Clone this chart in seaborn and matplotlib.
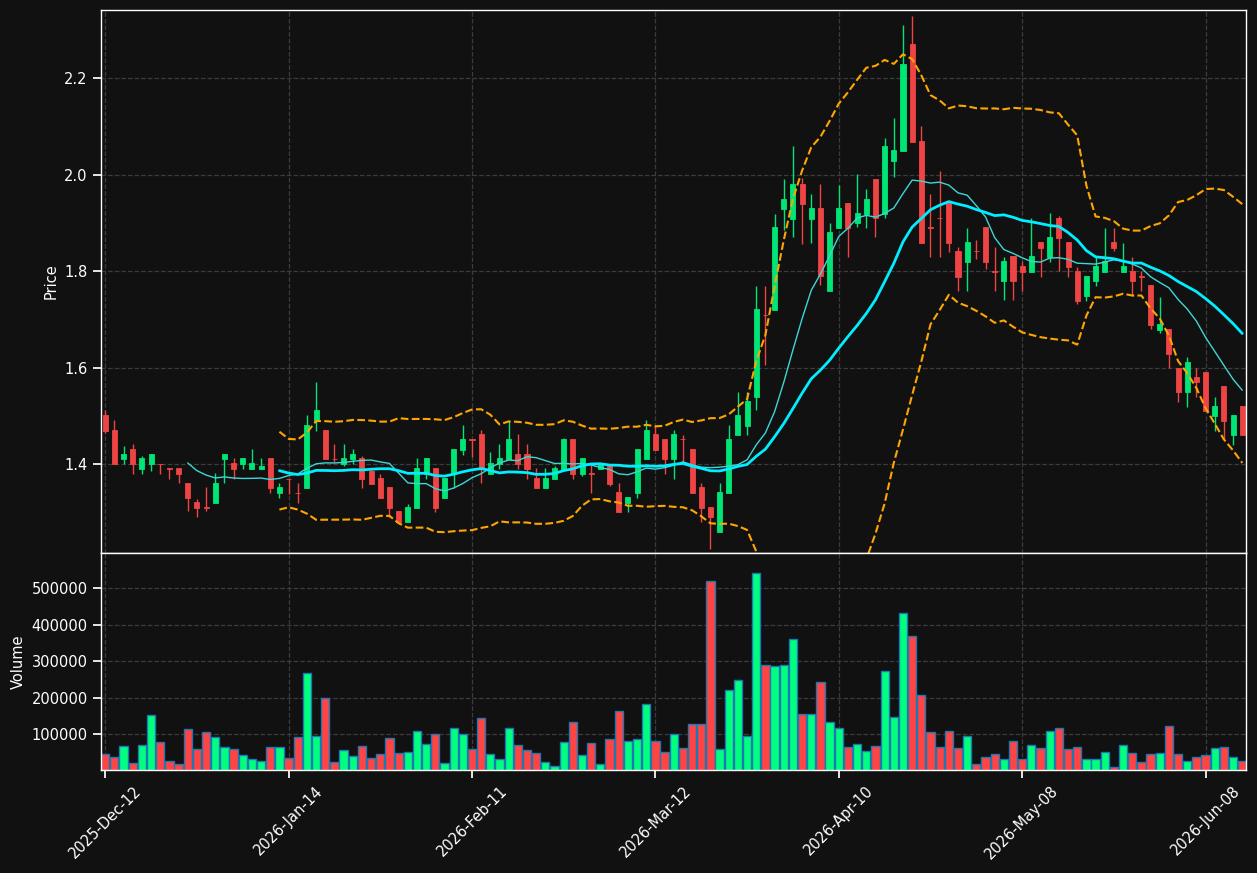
import numpy as np
import pandas as pd
import matplotlib
matplotlib.use("Agg")
import matplotlib.pyplot as plt
import seaborn as sns

# x-axis labels, one every 20 bars
tick_labels = ["2025-Dec-12", "2026-Jan-14", "2026-Feb-11", "2026-Mar-12",
               "2026-Apr-10", "2026-May-08", "2026-Jun-08"]

opens = [1.501, 1.470, 1.410, 1.431, 1.390, 1.4005, 1.401, 1.391, 1.391, 1.3605,
         1.321, 1.3105, 1.320, 1.411, 1.402, 1.4005, 1.390, 1.390, 1.412, 1.340,
         1.370, 1.341, 1.351, 1.490, 1.470, 1.4105, 1.4005, 1.410, 1.412, 1.386,
         1.371, 1.352, 1.302, 1.280, 1.309, 1.380, 1.392, 1.330, 1.380, 1.430,
         1.451, 1.462, 1.380, 1.4005, 1.410, 1.421, 1.421, 1.371, 1.351, 1.3695,
         1.390, 1.452, 1.380, 1.381, 1.390, 1.4005, 1.342, 1.320, 1.340, 1.410,
         1.462, 1.452, 1.410, 1.452, 1.431, 1.352, 1.311, 1.2595, 1.340, 1.461,
         1.479, 1.5395, 1.710, 1.719, 1.928, 1.908, 1.980, 1.908, 1.930, 1.759,
         1.890, 1.941, 1.899, 1.919, 1.990, 1.919, 2.029, 2.049, 2.270, 2.069,
         1.8906, 1.9096, 1.942, 1.841, 1.819, 1.8425, 1.891, 1.800, 1.780, 1.831,
         1.810, 1.799, 1.860, 1.829, 1.910, 1.860, 1.800, 1.749, 1.780, 1.799,
         1.860, 1.799, 1.800, 1.789, 1.771, 1.678, 1.680, 1.600, 1.549, 1.580,
         1.591, 1.4995, 1.562, 1.460, 1.520]
highs = [1.512, 1.491, 1.437, 1.441, 1.416, 1.421, 1.401, 1.391, 1.391, 1.3605,
         1.327, 1.3515, 1.3805, 1.421, 1.4116, 1.412, 1.431, 1.412, 1.412, 1.360,
         1.370, 1.360, 1.501, 1.5705, 1.470, 1.441, 1.441, 1.431, 1.416, 1.389,
         1.380, 1.352, 1.302, 1.317, 1.412, 1.412, 1.392, 1.371, 1.431, 1.481,
         1.451, 1.470, 1.426, 1.441, 1.490, 1.462, 1.441, 1.392, 1.392, 1.396,
         1.455, 1.452, 1.412, 1.401, 1.4005, 1.4005, 1.361, 1.3315, 1.431, 1.491,
         1.479, 1.452, 1.470, 1.461, 1.431, 1.360, 1.311, 1.360, 1.481, 1.550,
         1.550, 1.770, 1.770, 1.919, 1.990, 2.059, 1.992, 1.959, 1.980, 1.899,
         1.979, 1.941, 2.001, 1.970, 1.990, 2.075, 2.118, 2.310, 2.3285, 2.100,
         1.959, 2.008, 1.942, 1.849, 1.890, 1.865, 1.891, 1.849, 1.830, 1.831,
         1.821, 1.909, 1.860, 1.920, 1.915, 1.860, 1.809, 1.790, 1.830, 1.890,
         1.890, 1.859, 1.830, 1.800, 1.771, 1.746, 1.680, 1.600, 1.621, 1.600,
         1.591, 1.540, 1.562, 1.501, 1.520]
lows = [1.465, 1.400, 1.401, 1.380, 1.380, 1.385, 1.380, 1.3695, 1.360, 1.302,
        1.291, 1.302, 1.320, 1.360, 1.3695, 1.390, 1.390, 1.390, 1.340, 1.330,
        1.339, 1.320, 1.351, 1.469, 1.410, 1.405, 1.395, 1.4005, 1.351, 1.359,
        1.330, 1.291, 1.280, 1.280, 1.309, 1.3695, 1.301, 1.330, 1.351, 1.419,
        1.415, 1.360, 1.380, 1.390, 1.410, 1.390, 1.3695, 1.351, 1.351, 1.3695,
        1.390, 1.3695, 1.375, 1.340, 1.390, 1.354, 1.301, 1.301, 1.330, 1.410,
        1.430, 1.380, 1.370, 1.405, 1.340, 1.280, 1.225, 1.2595, 1.340, 1.461,
        1.461, 1.512, 1.605, 1.719, 1.885, 1.870, 1.856, 1.859, 1.771, 1.759,
        1.890, 1.830, 1.891, 1.890, 1.870, 1.909, 1.994, 2.049, 2.068, 1.859,
        1.830, 1.830, 1.840, 1.759, 1.759, 1.824, 1.805, 1.759, 1.740, 1.740,
        1.759, 1.799, 1.788, 1.819, 1.800, 1.788, 1.731, 1.7385, 1.769, 1.799,
        1.841, 1.799, 1.749, 1.759, 1.679, 1.671, 1.600, 1.529, 1.519, 1.540,
        1.511, 1.469, 1.451, 1.439, 1.460]
closes = [1.469, 1.4005, 1.421, 1.4005, 1.412, 1.421, 1.400, 1.390, 1.380, 1.330,
          1.309, 1.3095, 1.3605, 1.421, 1.390, 1.412, 1.402, 1.396, 1.351, 1.352,
          1.369, 1.340, 1.481, 1.512, 1.410, 1.410, 1.412, 1.421, 1.3695, 1.359,
          1.330, 1.309, 1.280, 1.311, 1.392, 1.412, 1.309, 1.371, 1.431, 1.452,
          1.450, 1.392, 1.402, 1.412, 1.452, 1.4005, 1.390, 1.351, 1.371, 1.392,
          1.452, 1.380, 1.412, 1.380, 1.4005, 1.359, 1.301, 1.3315, 1.431, 1.470,
          1.430, 1.410, 1.462, 1.451, 1.340, 1.309, 1.291, 1.342, 1.452, 1.501,
          1.530, 1.721, 1.709, 1.891, 1.949, 1.980, 1.939, 1.930, 1.789, 1.880,
          1.930, 1.890, 1.920, 1.949, 1.909, 2.059, 2.051, 2.229, 2.068, 1.859,
          1.890, 1.909, 1.859, 1.788, 1.861, 1.842, 1.819, 1.799, 1.820, 1.780,
          1.799, 1.831, 1.848, 1.870, 1.869, 1.809, 1.7385, 1.790, 1.810, 1.821,
          1.848, 1.810, 1.780, 1.788, 1.688, 1.690, 1.628, 1.549, 1.611, 1.570,
          1.511, 1.520, 1.490, 1.501, 1.460]
volumes = [45200, 37000, 67100, 22400, 69900, 152000, 78100, 26000, 17800, 113700,
           60700, 105500, 91800, 64400, 60700, 42500, 31500, 26000, 64400, 64400,
           34300, 91800, 267100, 94500, 198600, 23300, 56200, 39700, 67100, 34300,
           45200, 89000, 47900, 50700, 108200, 72600, 100000, 20500, 116400, 100000,
           58900, 143800, 45200, 31500, 116400, 69900, 56200, 47900, 23300, 12300,
           78100, 132900, 42500, 75300, 17800, 86300, 163000, 80800, 86300, 182200,
           80800, 50700, 100000, 61700, 127400, 127400, 519200, 58900, 220500, 247900,
           94500, 541100, 289000, 286300, 289000, 360300, 154800, 154800, 242500, 132900,
           116400, 64400, 72600, 53400, 67100, 272600, 146600, 431500, 368500, 206800,
           105500, 64400, 108200, 61700, 94500, 17800, 37000, 45200, 31500, 80800,
           31500, 69900, 61700, 108200, 116400, 58900, 64400, 31500, 31500, 50700,
           9600, 69900, 47900, 23300, 45200, 47900, 121900, 45200, 26000, 37000,
           42500, 61700, 64400, 37000, 26000]

df = pd.DataFrame({"open": opens, "high": highs, "low": lows,
                   "close": closes, "volume": volumes})
df["idx"] = np.arange(len(df))
df["ma10"] = df["close"].rolling(10).mean()
df["ma20"] = df["close"].rolling(20).mean()
std20 = df["close"].rolling(20).std()
df["bb_up"] = df["ma20"] + 2 * std20
df["bb_dn"] = df["ma20"] - 2 * std20

up = df["close"] >= df["open"]
candle_colors = np.where(up, "#00e676", "#ef4444")
vol_colors = np.where(up, "#00ff7f", "#ff4444")

bg = "#111111"
sns.set_theme(style="darkgrid", rc={
    "figure.facecolor": bg, "axes.facecolor": bg, "savefig.facecolor": bg,
    "axes.edgecolor": "white", "axes.linewidth": 1.0,
    "grid.color": "#3c3c3c", "grid.linestyle": "--", "grid.linewidth": 0.9,
    "text.color": "white", "axes.labelcolor": "white",
    "xtick.color": "white", "ytick.color": "white",
    "xtick.bottom": True, "ytick.left": True,
    "font.size": 10.5, "xtick.labelsize": 10.5, "ytick.labelsize": 10.5,
    "axes.labelsize": 10.5,
})
plt.rcParams["font.family"] = ["DejaVu Sans"]

fig, (ax1, ax2) = plt.subplots(2, 1, figsize=(12.57, 8.73), dpi=100, sharex=True,
                               gridspec_kw={"height_ratios": [2.5, 1], "hspace": 0})
fig.subplots_adjust(left=0.0804, right=0.9912, top=0.9885, bottom=0.118)

#candles: wicks then bodies
ax1.vlines(df["idx"], df["low"], df["high"], colors=candle_colors, linewidth=1)
body_bottom = np.minimum(df["open"], df["close"])
body_height = (df["open"] - df["close"]).abs()
ax1.bar(df["idx"], body_height, bottom=body_bottom, width=0.55,
        color=candle_colors, edgecolor=candle_colors, linewidth=0.6)

sns.lineplot(data=df, x="idx", y="ma10", ax=ax1, color="#3fd6d6", linewidth=1,
             estimator=None, errorbar=None)
sns.lineplot(data=df, x="idx", y="ma20", ax=ax1, color="#00eeff", linewidth=2,
             estimator=None, errorbar=None)
sns.lineplot(data=df, x="idx", y="bb_up", ax=ax1, color="orange", linewidth=1.5,
             linestyle="--", estimator=None, errorbar=None)
sns.lineplot(data=df, x="idx", y="bb_dn", ax=ax1, color="orange", linewidth=1.5,
             linestyle="--", estimator=None, errorbar=None)

ax1.set_ylim(1.216, 2.341)
ax1.set_ylabel("Price")
ax1.set_xlabel("")
ax1.tick_params(axis="x", labelbottom=False, length=0)

#volume panel
ax2.bar(df["idx"], df["volume"], width=0.9, color=vol_colors,
        edgecolor="#1f77b4", linewidth=1)
ax2.set_ylim(2200, 597000)
ax2.set_ylabel("Volume")
ax2.set_xlabel("")

ax2.set_xlim(-0.45, 124.4)
ax2.set_xticks(np.arange(0, len(df), 20))
ax2.set_xticklabels(tick_labels, rotation=45)

for ax in (ax1, ax2):
    for s in ax.spines.values():
        s.set_color("white")
    ax.grid(True, linestyle="--", color="#3c3c3c")

fig.savefig("out.png", dpi=100)
